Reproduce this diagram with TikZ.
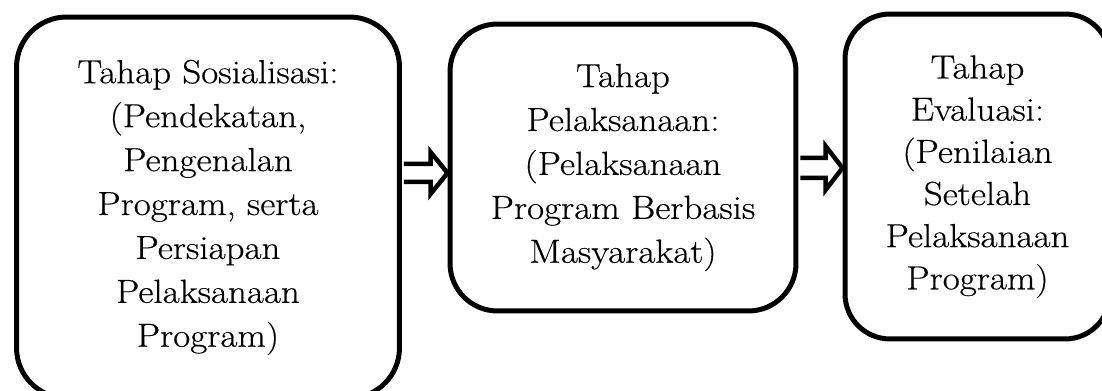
\documentclass[tikz,border=0pt]{standalone}
\usepackage{fontspec}
\setmainfont{Latin Modern Roman}[FakeStretch=1.11, FakeBold=0.4]
\usepackage{tikz}
\usetikzlibrary{calc}

\begin{document}
\begin{tikzpicture}[x=0.02cm, y=-0.02cm, line join=miter,
    stagebox/.style={draw, line width=0.1cm, fill=white, align=center, inner sep=0pt,
      font=\fontsize{19}{25}\selectfont},
    hollowarrow/.style={draw, line width=0.09cm, fill=white, miter limit=10}]
  \useasboundingbox (0,0) rectangle (1102,391);
  \clip (0,0) rectangle (1102,391);
  \coordinate (P1) at (208.0,207.5);
  \coordinate (P2) at (623.0,167.5);
  \coordinate (P3) at (977.5,176.5);
  \node[stagebox, minimum width=7.66cm, minimum height=7.62cm, rounded corners=1.0cm] (sosial) at (P1)
    {Tahap Sosialisasi:\\(Pendekatan,\\Pengenalan\\Program, serta\\Persiapan\\Pelaksanaan\\Program)};
  \node[stagebox, minimum width=6.92cm, minimum height=5.74cm, rounded corners=0.95cm] (laksana) at (P2)
    {Tahap\\Pelaksanaan:\\(Pelaksanaan\\Program Berbasis\\Masyarakat)};
  \node[stagebox, minimum width=5.30cm, minimum height=6.50cm, rounded corners=0.9cm,
    font=\fontsize{19}{24}\selectfont] (evaluasi) at (P3)
    {Tahap\\Evaluasi:\\(Penilaian\\Setelah\\Pelaksanaan\\Program)};
  % arrows between the stages
  \coordinate (T1) at ($(sosial.east |- 0,173)+(2,0)$);
  \coordinate (H1) at (laksana.west |- 0,173);
  \coordinate (T2) at ($(laksana.east |- 0,168)+(2,0)$);
  \coordinate (H2) at (evaluasi.west |- 0,168);
  \draw[hollowarrow] ($(T1)+(0,-9)$) -- ($(H1)+(-17,-9)$) -- ($(H1)+(-17,-21)$) -- (H1)
    -- ($(H1)+(-17,21)$) -- ($(H1)+(-17,9)$) -- ($(T1)+(0,9)$);
  \draw[hollowarrow] ($(T2)+(0,-10)$) -- ($(H2)+(-17,-10)$) -- ($(H2)+(-17,-22)$) -- (H2)
    -- ($(H2)+(-17,22)$) -- ($(H2)+(-17,10)$) -- ($(T2)+(0,10)$);
\end{tikzpicture}
\end{document}
